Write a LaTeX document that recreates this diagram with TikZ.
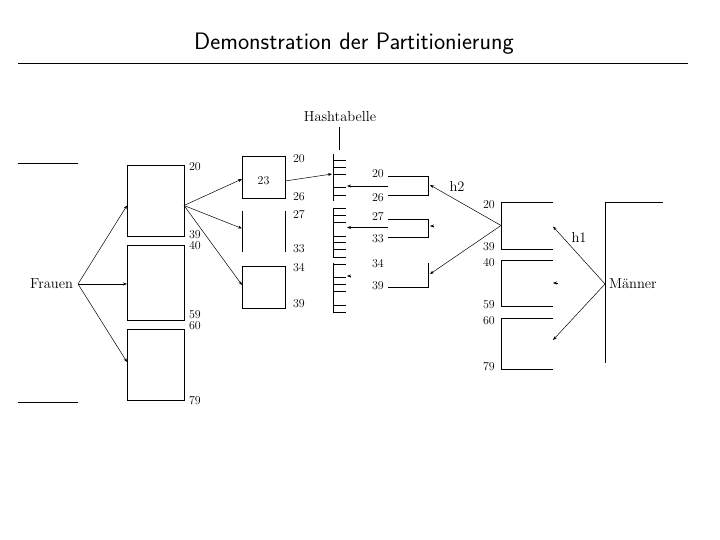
\documentclass[tikz,border=0pt]{standalone}
\usepackage{fontspec}
\usetikzlibrary{arrows.meta,calc}
\begin{document}
\begin{tikzpicture}[x=1pt,y=-1pt,
  every node/.style={inner sep=0pt, outer sep=0pt},
  lbl/.style={font=\fontsize{14.5}{16}\selectfont},
  num/.style={font=\fontsize{12}{13}\selectfont, anchor=west},
  part/.style={draw, line width=0.8pt},
  ln/.style={line width=0.8pt},
  arr/.style={line width=0.5pt, -{Stealth[length=4pt,width=3pt]}}]
\useasboundingbox (0,0) rectangle (720,540);
% title
\node[font=\sffamily\fontsize{23.8}{28}\selectfont] (title) at (354,44) {Demonstration der Partitionierung};
\draw[line width=1pt] (18,64) -- (688,64);
% Frauen side
\draw[ln] (18,163) -- (78,163);
\draw[ln] (18,402) -- (78,402);
\node[lbl, anchor=east] (frauen) at (73,284) {Frauen};
\coordinate (fo) at (78,284);
\node[part, minimum width=57pt, minimum height=71pt] (fb1) at (155.5,200.5) {};
\node[part, minimum width=57pt, minimum height=75pt] (fb2) at (155.5,282.5) {};
\node[part, minimum width=57pt, minimum height=71pt] (fb3) at (155.5,364.5) {};
\draw[arr] (fo) -- ([yshift=-5pt]fb1.west);
\draw[arr] (fo) -- ([yshift=-1.5pt]fb2.west);
\draw[arr] (fo) -- ([yshift=2.5pt]fb3.west);
\node[num] (n20a) at (189,167) {20};
\node[num] (n39a) at (189,235) {39};
\node[num] (n40a) at (189,245.5) {40};
\node[num] (n59a) at (189,315) {59};
\node[num] (n60a) at (189,325.5) {60};
\node[num] (n79a) at (189,401) {79};
% second level
\node[part, minimum width=43pt, minimum height=42pt] (sb1) at (263.5,177) {};
\node[font=\fontsize{12}{13}\selectfont] (t23) at (263.5,181) {23};
\node[minimum width=43pt, minimum height=41pt] (sb2) at (263.5,231.5) {};
\draw[ln] (sb2.north west) -- (sb2.south west);
\draw[ln] (sb2.north east) -- (sb2.south east);
\node[part, minimum width=43pt, minimum height=42pt] (sb3) at (263.5,287) {};
\coordinate (f1o) at ([yshift=-5pt]fb1.east);
\draw[arr] (f1o) -- ([yshift=-2pt]sb1.west);
\draw[arr] (f1o) -- ([yshift=3pt]sb2.west);
\draw[arr] (f1o) -- ([yshift=2pt]sb3.west);
\node[num] (n20b) at (293,159) {20};
\node[num] (n26b) at (293,197) {26};
\node[num] (n27b) at (293,215) {27};
\node[num] (n33b) at (293,249) {33};
\node[num] (n34b) at (293,268) {34};
\node[num] (n39b) at (293,304) {39};
% hash table
\node[lbl] (ht) at (340,117) {Hashtabelle};
\draw[ln] (339,127) -- (339,150);
\draw[ln] (333,154) -- (333,201);
\foreach \y in {160,167,174,187,195} \draw[ln] (333,\y) -- (346,\y);
\draw[ln] (333,208) -- (333,257);
\foreach \y in {208,215,222,236,242,249,257} \draw[ln] (333,\y) -- (346,\y);
\draw[ln] (333,263) -- (333,313);
\foreach \y in {264,277,284,291,305,312} \draw[ln] (333,\y) -- (346,\y);
\coordinate (hs1) at (332,174);
\draw[arr] ([yshift=-4pt]sb1.east) -- (hs1);
% buckets
\draw[ln] (388,176) -- (428,176) -- (428,195) -- (388,195);
\draw[ln] (388,219) -- (428,219) -- (428,237.5) -- (388,237.5);
\draw[ln] (428,263) -- (428,287) -- (388,287);
\coordinate (b1a) at (388,186); \coordinate (h1a) at (347,186);
\coordinate (b2a) at (388,227.5); \coordinate (h2a) at (347,227.5);
\coordinate (b3a) at (351,276); \coordinate (h3a) at (347,276);
\draw[arr] (b1a) -- (h1a);
\draw[arr] (b2a) -- (h2a);
\draw[arr] (b3a) -- (h3a);
\node[num] (n20c) at (372,174) {20};
\node[num] (n26c) at (372,198) {26};
\node[num] (n27c) at (372,216.5) {27};
\node[num] (n33c) at (372,239) {33};
\node[num] (n34c) at (372,264) {34};
\node[num] (n39c) at (372,286) {39};
% Maenner side
\node[minimum width=52pt, minimum height=47pt] (mb1) at (527,225.5) {};
\node[minimum width=52pt, minimum height=46pt] (mb2) at (527,283) {};
\node[minimum width=52pt, minimum height=51pt] (mb3) at (527,343.5) {};
\foreach \b in {mb1,mb2,mb3}
  \draw[ln] (\b.north east) -- (\b.north west) -- (\b.south west) -- (\b.south east);
\node[num] (n20d) at (483,204.5) {20};
\node[num] (n39d) at (483,247) {39};
\node[num] (n40d) at (483,262.5) {40};
\node[num] (n59d) at (483,305) {59};
\node[num] (n60d) at (483,320.5) {60};
\node[num] (n79d) at (483,367) {79};
% h2 arrows
\coordinate (hb1) at (430,185);
\coordinate (hb2s) at (434,226); \coordinate (hb2) at (430,226);
\coordinate (hb3) at (430,274);
\draw[arr] (mb1.west) -- (hb1);
\draw[arr] (mb1.west) -- (hb3);
\draw[arr] (hb2s) -- (hb2);
\node[lbl] (h2) at (457,186) {h2};
% Maenner
\draw[ln] (663,202) -- (605,202) -- (605,363);
\node[lbl, anchor=west] (maenner) at (609,284) {Männer};
\coordinate (mo) at (605,284);
\draw[arr] (mo) -- ([yshift=-1pt]mb1.east);
\coordinate (m2s) at (558,283);
\draw[arr] (m2s) -- (mb2.east);
\draw[arr] (mo) -- ([yshift=3.5pt]mb3.east);
\node[lbl] (h1) at (579,237) {h1};
\end{tikzpicture}
\end{document}
